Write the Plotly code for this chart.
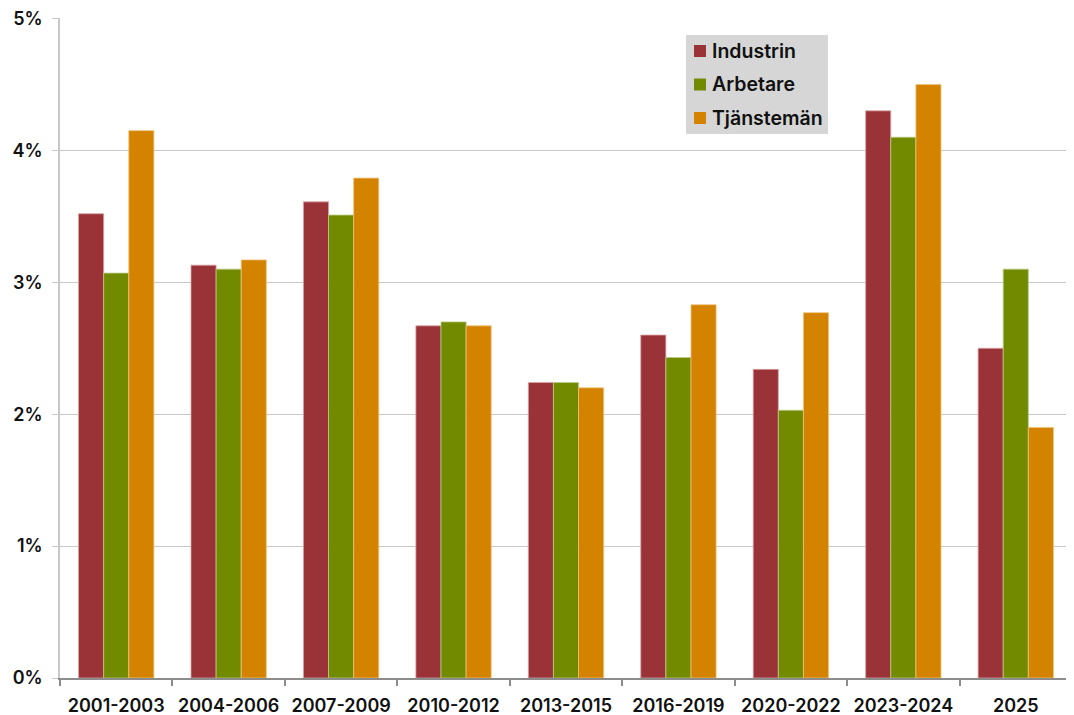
import plotly.graph_objects as go

categories = ["2001-2003", "2004-2006", "2007-2009", "2010-2012", "2013-2015",
              "2016-2019", "2020-2022", "2023-2024", "2025"]
industrin = [3.52, 3.13, 3.61, 2.67, 2.24, 2.60, 2.34, 4.30, 2.50]
arbetare = [3.07, 3.10, 3.51, 2.70, 2.24, 2.43, 2.03, 4.10, 3.10]
tjanstemen = [4.15, 3.17, 3.79, 2.67, 2.20, 2.83, 2.77, 4.50, 1.90]
y_ticks = [0, 1, 2, 3, 4, 5]
y_labels = ["0%", "1%", "2%", "3%", "4%", "5%"]

series = [
    ("Industrin", industrin, "#993337", "#d9a3a6"),
    ("Arbetare", arbetare, "#718A00", "#bccb84"),
    ("Tjänstemän", tjanstemen, "#D38300", "#efc47c"),
]

FONT = "Inter"
OFF = 8  # the page body has an 8px margin
W, H = 1074 - OFF, 715 - OFF
ML, MR, MT, MB = 60 - OFF, 2, 18 - OFF, 37
PW, PH = W - ML - MR, H - MT - MB


def px_x(p):
    return (p - OFF - ML) / PW


def px_y(p):
    return (OFF + H - MB - p) / PH


fig = go.Figure()
for i, (name, vals, col, edge) in enumerate(series):
    fig.add_trace(go.Bar(
        x=categories, y=vals, name=name, showlegend=False,
        marker=dict(color=col, line=dict(color=edge, width=0.8)),
    ))

# Legend box (drawn manually to match the reference layout)
shapes = [dict(type="rect", xref="paper", yref="paper",
               x0=px_x(686), x1=px_x(828), y0=px_y(134), y1=px_y(35),
               fillcolor="#D6D6D6", line=dict(width=0), layer="above")]
annotations = []
row_y = [51, 84.5, 118]
for (name, _, col, _e), cy in zip(series, row_y):
    shapes.append(dict(type="rect", xref="paper", yref="paper",
                       x0=px_x(694), x1=px_x(706), y0=px_y(cy + 6), y1=px_y(cy - 6),
                       fillcolor=col, line=dict(width=0), layer="above"))
    annotations.append(dict(xref="paper", yref="paper", x=px_x(710), y=px_y(cy),
                            xanchor="left", yanchor="middle", showarrow=False,
                            text=name,
                            font=dict(family=FONT, size=19.5, color="#111111", weight=600)))

fig.update_layout(
    width=W, height=H,
    margin=dict(l=ML, r=MR, t=MT, b=MB, autoexpand=False),
    paper_bgcolor="white", plot_bgcolor="white",
    barmode="group", bargap=0.33, bargroupgap=0,
    font=dict(family=FONT, size=18, color="#111111", weight=600),
    showlegend=False,
    shapes=shapes, annotations=annotations,
    xaxis=dict(
        automargin=False,
        showline=True, linecolor="#8c8c8c", linewidth=2,
        ticks="outside", tickcolor="#8c8c8c", ticklen=6, tickwidth=1.5,
        tickson="boundaries", ticklabelstandoff=10,
        tickfont=dict(family=FONT, size=18, color="#111111", weight=600),
        showgrid=False,
    ),
    yaxis=dict(
        automargin=False, ticklabeloverflow="allow",
        range=[0, 5.004], tickvals=y_ticks, ticktext=y_labels,
        showline=True, linecolor="#c8c8c8", linewidth=1.5,
        ticks="outside", tickcolor="#c8c8c8", ticklen=6,
        ticklabelstandoff=6,
        showgrid=True, gridcolor="#c8c8c8", gridwidth=1.2,
        zeroline=False,
        tickfont=dict(family=FONT, size=18, color="#111111", weight=600),
    ),
)

fig.write_html("out.html")
